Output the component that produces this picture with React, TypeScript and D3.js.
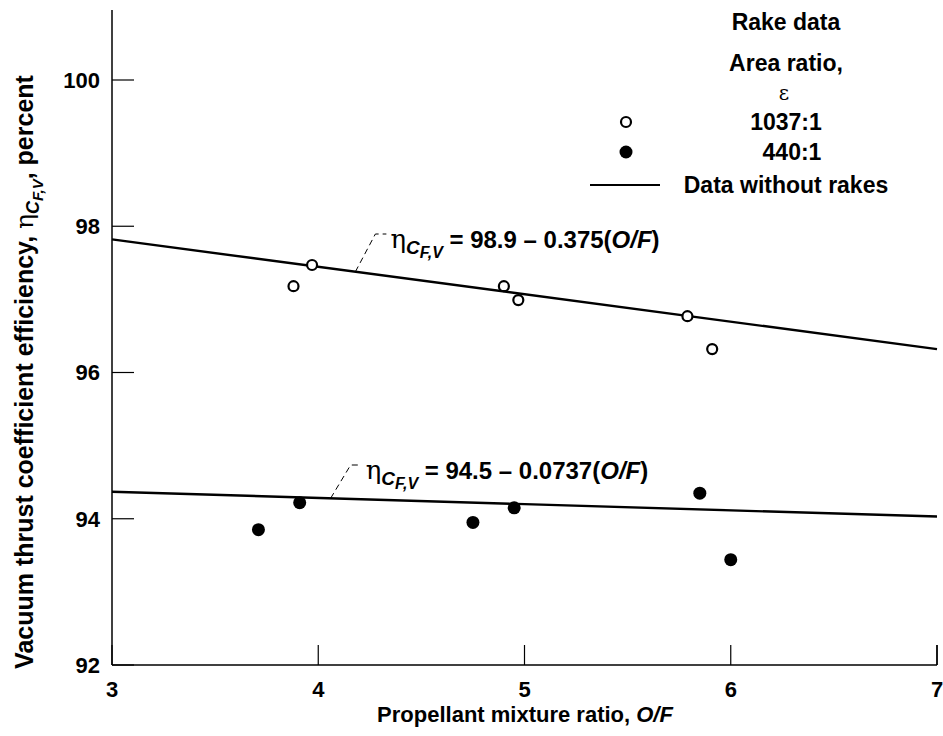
import React from "react";
import * as d3 from "d3";

// ---- data ----
const openX = [3.88, 3.97, 4.9, 4.97, 5.79, 5.91];
const openY = [97.18, 97.47, 97.18, 96.99, 96.77, 96.32];
const filledX = [3.71, 3.91, 4.75, 4.95, 5.85, 6.0];
const filledY = [93.85, 94.22, 93.95, 94.15, 94.35, 93.44];
const upperLine = [
  [3, 97.82],
  [7, 96.32],
];
const lowerLine = [
  [3, 94.37],
  [7, 94.03],
];
const xTicks = [3, 4, 5, 6, 7];
const yTicks = [92, 94, 96, 98, 100];
const upperEq = { lead: "98.9 \u2013 0.375(", x: 4.18 };
const lowerEq = { lead: "94.5 \u2013 0.0737(", x: 4.06 };

const W = 943;
const H = 736;
const FONT = "'Liberation Sans', Arial, Helvetica, sans-serif";
const GREEK = "'DejaVu Serif', serif";

export default function App() {
  const x = d3.scaleLinear().domain([3, 7]).range([112, 937]);
  const y = d3.scaleLinear().domain([92, 100]).range([665, 80]);
  const line = d3
    .line<number[]>()
    .x((d) => x(d[0]))
    .y((d) => y(d[1]));

  const lineAt = (ln: number[][], v: number) => {
    const t = (v - ln[0][0]) / (ln[1][0] - ln[0][0]);
    return ln[0][1] + t * (ln[1][1] - ln[0][1]);
  };

  const eqLabel = (
    eq: { lead: string; x: number },
    ln: number[][],
    labelY: number
  ) => {
    const sx = x(eq.x);
    const sy = y(lineAt(ln, eq.x));
    const cx = sx + 20;
    const cy = labelY - 14;
    return (
      <g>
        <path
          d={`M${sx},${sy} L${cx},${cy} L${cx + 11},${cy}`}
          fill="none"
          stroke="#000"
          strokeWidth={1}
          strokeDasharray="6,4"
        />
        <text
          x={cx + 15}
          y={labelY}
          fontFamily={FONT}
          fontWeight="bold"
          fontSize={24}
          fill="#000"
        >
          <tspan fontFamily={GREEK} fontWeight="normal" fontSize={26}>
            η
          </tspan>
          <tspan dy={6} fontStyle="italic" fontSize={19}>
            C
          </tspan>
          <tspan dy={4} fontStyle="italic" fontSize={16}>
            F,V
          </tspan>
          <tspan dy={-10}>{" = " + eq.lead}</tspan>
          <tspan fontStyle="italic">O/F</tspan>
          <tspan>)</tspan>
        </text>
      </g>
    );
  };

  return (
    <div style={{ position: "absolute", left: 0, top: 0 }}>
      <svg width={W} height={H} style={{ display: "block", background: "#fff" }}>
        <rect width={W} height={H} fill="#fff" />
        {/* axes */}
        <line x1={112} y1={10} x2={112} y2={665} stroke="#000" strokeWidth={1.5} />
        <line x1={112} y1={665} x2={937} y2={665} stroke="#000" strokeWidth={1.5} />
        <line x1={937} y1={645} x2={937} y2={665} stroke="#000" strokeWidth={1.5} />
        {yTicks.map((t) => (
          <g key={"y" + t}>
            <line x1={112} x2={134} y1={y(t)} y2={y(t)} stroke="#000" strokeWidth={1.2} />
            <text
              x={100}
              y={y(t)}
              dy="0.36em"
              textAnchor="end"
              fontFamily={FONT}
              fontWeight="bold"
              fontSize={22}
            >
              {t}
            </text>
          </g>
        ))}
        {xTicks.map((t) => (
          <g key={"x" + t}>
            <line x1={x(t)} x2={x(t)} y1={645} y2={665} stroke="#000" strokeWidth={1.2} />
            <text
              x={x(t)}
              y={697}
              textAnchor="middle"
              fontFamily={FONT}
              fontWeight="bold"
              fontSize={22}
            >
              {t}
            </text>
          </g>
        ))}
        {/* axis titles */}
        <text
          x={525}
          y={722}
          textAnchor="middle"
          fontFamily={FONT}
          fontWeight="bold"
          fontSize={22}
        >
          Propellant mixture ratio, <tspan fontStyle="italic">O/F</tspan>
        </text>
        <text
          transform="translate(33,372) rotate(-90)"
          textAnchor="middle"
          fontFamily={FONT}
          fontWeight="bold"
          fontSize={25}
        >
          Vacuum thrust coefficient efficiency,{" "}
          <tspan fontFamily={GREEK} fontWeight="normal">
            η
          </tspan>
          <tspan dy={6} fontStyle="italic" fontSize={18}>
            C
          </tspan>
          <tspan dy={4} fontStyle="italic" fontSize={15}>
            F,V
          </tspan>
          <tspan dy={-10}>, percent</tspan>
        </text>

        {/* fit lines */}
        <path d={line(upperLine) || ""} fill="none" stroke="#000" strokeWidth={2.4} />
        <path d={line(lowerLine) || ""} fill="none" stroke="#000" strokeWidth={2.4} />

        {/* points */}
        {openX.map((v, i) => (
          <circle
            key={"o" + i}
            cx={x(v)}
            cy={y(openY[i])}
            r={5}
            fill="#fff"
            stroke="#000"
            strokeWidth={2.2}
          />
        ))}
        {filledX.map((v, i) => (
          <circle key={"f" + i} cx={x(v)} cy={y(filledY[i])} r={6.5} fill="#000" />
        ))}

        {eqLabel(upperEq, upperLine, 248)}
        {eqLabel(lowerEq, lowerLine, 479)}

        {/* legend */}
        <g fontFamily={FONT} fontWeight="bold" fontSize={23}>
          <text x={786} y={30} textAnchor="middle">
            Rake data
          </text>
          <text x={786} y={71} textAnchor="middle">
            Area ratio,
          </text>
          <text x={784} y={100} textAnchor="middle" fontFamily={GREEK} fontWeight="normal" fontSize={20}>
            ε
          </text>
          <circle cx={626} cy={122} r={5} fill="#fff" stroke="#000" strokeWidth={2.2} />
          <text x={786} y={130} textAnchor="middle">
            1037:1
          </text>
          <circle cx={626} cy={152} r={6.5} fill="#000" />
          <text x={792} y={160} textAnchor="middle">
            440:1
          </text>
          <line x1={590} x2={660} y1={185} y2={185} stroke="#000" strokeWidth={2.2} />
          <text x={786} y={193} textAnchor="middle">
            Data without rakes
          </text>
        </g>
      </svg>
    </div>
  );
}
